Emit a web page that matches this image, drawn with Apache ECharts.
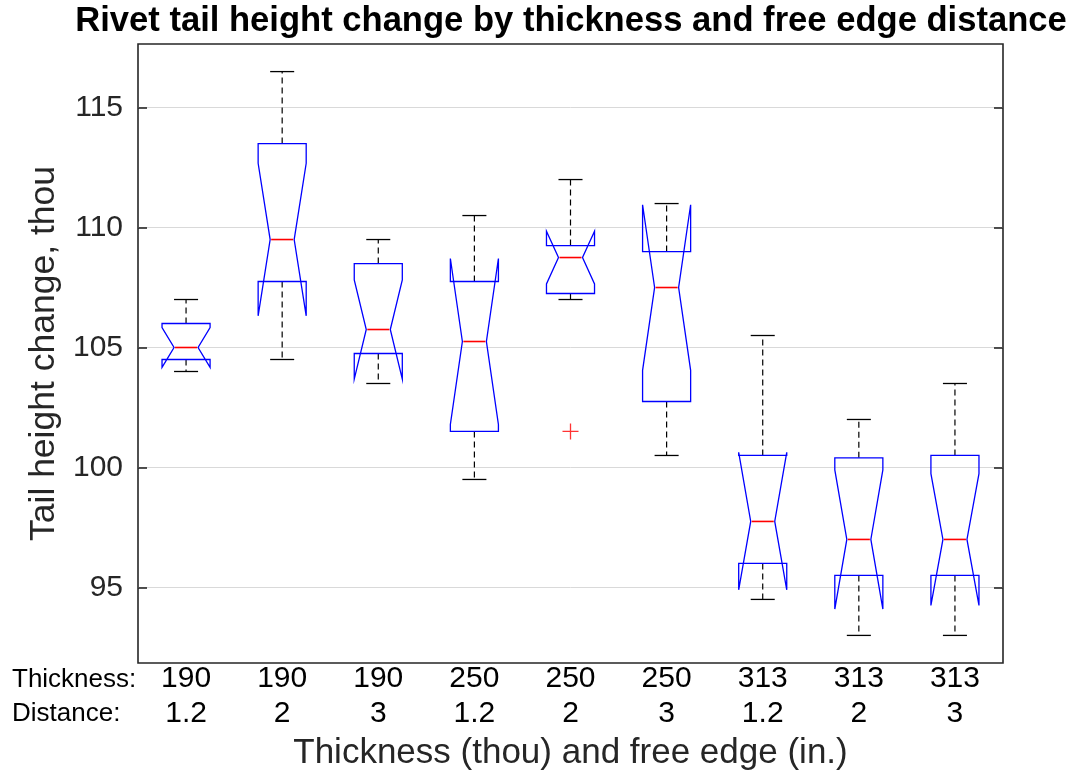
<!DOCTYPE html>
<html>
<head>
<meta charset="utf-8">
<script src="https://cdn.jsdelivr.net/npm/echarts@6/dist/echarts.min.js"></script>
<style>
html,body{margin:0;padding:0;background:#fff;}
#chart{width:1073px;height:773px;}
</style>
</head>
<body>
<div id="chart"></div>
<script>
// ---- data ----
var thickness = ['190','190','190','250','250','250','313','313','313'];
var distance  = ['1.2','2','3','1.2','2','3','1.2','2','3'];
var whiskerLo = [104.0, 104.5, 103.5, 99.5, 107.0, 100.5, 94.5, 93.0, 93.0];
var q1        = [104.5, 107.75, 104.75, 101.5, 107.25, 102.75, 96.0, 95.5, 95.5];
var notchLo   = [104.17, 106.32, 103.68, 101.79, 107.65, 104.05, 94.9, 94.1, 94.25];
var median    = [105.0, 109.5, 105.75, 105.25, 108.75, 107.5, 97.75, 97.0, 97.0];
var notchHi   = [105.83, 112.68, 107.82, 108.71, 109.85, 110.95, 100.63, 99.9, 99.74];
var q3        = [106.0, 113.5, 108.5, 107.75, 109.25, 109.0, 100.5, 100.4, 100.5];
var whiskerHi = [107.0, 116.5, 109.5, 110.5, 112.0, 111.0, 105.5, 102.0, 103.5];
var outliers  = [[4, 101.5]];
var yTicks    = [95, 100, 105, 110, 115];
var yMin = 91.85, yMax = 117.65;

var boxData = thickness.map(function (t, i) {
  return [i, whiskerLo[i], q1[i], notchLo[i], median[i], notchHi[i], q3[i], whiskerHi[i]];
});

var BLUE = '#0000ff', RED = '#ff0000', AX = '#262626';
var FONT = 'Liberation Sans, Arial, sans-serif';

function renderBox(params, api) {
  var idx = api.value(0);
  var wLo = api.value(1), bq1 = api.value(2), nLo = api.value(3), med = api.value(4),
      nHi = api.value(5), bq3 = api.value(6), wHi = api.value(7);
  var band = api.size([1, 0])[0];
  var cx = api.coord([idx, med])[0];
  var half = band * 0.25, inset = band * 0.125, capHalf = band * 0.125;
  function y(v) { return api.coord([idx, v])[1]; }
  var L = cx - half, R = cx + half;
  var pts = [
    [L, y(bq1)], [L, y(nLo)], [L + inset, y(med)], [L, y(nHi)], [L, y(bq3)],
    [R, y(bq3)], [R, y(nHi)], [R - inset, y(med)], [R, y(nLo)], [R, y(bq1)]
  ];
  var dash = { stroke: '#000', lineWidth: 1.2, lineDash: [6, 4] };
  var solid = { stroke: '#000', lineWidth: 1.3 };
  return {
    type: 'group',
    children: [
      { type: 'line', shape: { x1: cx, y1: y(bq3), x2: cx, y2: y(wHi) }, style: dash },
      { type: 'line', shape: { x1: cx, y1: y(bq1), x2: cx, y2: y(wLo) }, style: dash },
      { type: 'line', shape: { x1: cx - capHalf, y1: y(wHi), x2: cx + capHalf, y2: y(wHi) }, style: solid },
      { type: 'line', shape: { x1: cx - capHalf, y1: y(wLo), x2: cx + capHalf, y2: y(wLo) }, style: solid },
      { type: 'polygon', shape: { points: pts }, style: { fill: 'none', stroke: BLUE, lineWidth: 1.3 } },
      { type: 'line', shape: { x1: L + inset + 1, y1: y(med), x2: R - inset - 1, y2: y(med) }, style: { stroke: RED, lineWidth: 1.6 } }
    ]
  };
}

var chart = echarts.init(document.getElementById('chart'), null, { renderer: 'canvas' });
var option = {
  animation: false,
  backgroundColor: '#fff',
  grid: { left: 138, right: 70, top: 44, bottom: 110, show: true, borderColor: AX, borderWidth: 1.6,
          backgroundColor: 'transparent', containLabel: false, outerBoundsMode: 'none' },
  xAxis: {
    type: 'category',
    data: thickness.map(function (t, i) { return t + '\n' + distance[i]; }),
    boundaryGap: true,
    axisLine: { show: false },
    axisTick: { show: false },
    splitLine: { show: false },
    axisLabel: { color: '#000', fontSize: 30, fontFamily: FONT, lineHeight: 35, margin: -2, interval: 0 },
    name: 'Thickness (thou) and free edge (in.)',
    nameLocation: 'middle',
    nameGap: 70,
    nameTextStyle: { color: AX, fontSize: 35, fontFamily: FONT }
  },
  yAxis: [{
    type: 'value',
    min: yMin, max: yMax,
    position: 'left',
    axisLine: { show: false },
    axisTick: { show: true, inside: true, length: 9, customValues: yTicks, lineStyle: { color: AX, width: 1.6 } },
    axisLabel: { customValues: yTicks, color: AX, fontSize: 30, fontFamily: FONT, margin: 15 },
    splitLine: { show: true, lineStyle: { color: '#d9d9d9', width: 1 } },
    name: 'Tail height change, thou',
    nameLocation: 'middle',
    nameGap: 60,
    nameTextStyle: { color: AX, fontSize: 35.5, fontFamily: FONT }
  }, {
    type: 'value',
    min: yMin, max: yMax,
    position: 'right',
    axisLine: { show: false },
    axisTick: { show: true, inside: true, length: 9, customValues: yTicks, lineStyle: { color: AX, width: 1.6 } },
    axisLabel: { show: false, customValues: yTicks },
    splitLine: { show: false }
  }],
  graphic: [
    { type: 'text', x: 571, y: 21, style: { text: 'Rivet tail height change by thickness and free edge distance', fill: '#000', font: 'bold 34.6px "Liberation Sans", Arial, sans-serif', textAlign: 'center', textVerticalAlign: 'middle' } },
    { type: 'text', x: 12, y: 680, style: { text: 'Thickness:', fill: '#000', font: '26px "Liberation Sans", Arial, sans-serif', textAlign: 'left', textVerticalAlign: 'middle' } },
    { type: 'text', x: 12, y: 714, style: { text: 'Distance:', fill: '#000', font: '26px "Liberation Sans", Arial, sans-serif', textAlign: 'left', textVerticalAlign: 'middle' } }
  ],
  series: [{
    type: 'custom',
    renderItem: renderBox,
    data: boxData,
    encode: { x: 0, y: [1, 2, 3, 4, 5, 6, 7] },
    z: 5
  }, {
    type: 'scatter',
    data: outliers,
    symbol: 'path://M0,8L16,8M8,0L8,16',
    symbolSize: 16,
    itemStyle: { color: 'transparent', borderColor: RED, borderWidth: 1.3 },
    z: 6
  }]
};
chart.setOption(option);
</script>
</body>
</html>
